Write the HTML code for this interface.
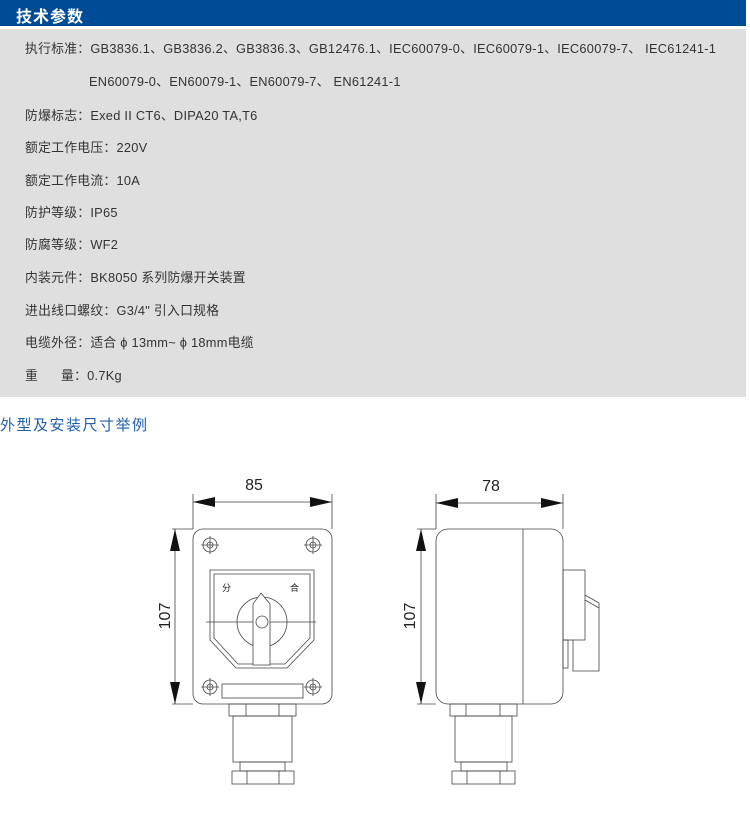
<!DOCTYPE html>
<html><head><meta charset="utf-8"><style>
html,body{margin:0;padding:0;background:#fff;}
body{width:750px;height:825px;position:relative;overflow:hidden;font-family:"Liberation Sans","Noto Sans CJK SC",sans-serif;}
.hd{position:absolute;left:0;top:0;width:746px;height:26px;background:#004b95;}
.hd span{position:absolute;left:16px;top:3px;color:#fff;font-size:16px;font-weight:bold;letter-spacing:1px;}
.gr{position:absolute;left:0;top:29px;width:746px;height:368px;background:#dfdfdf;}
.t{position:absolute;left:25px;font-size:12.8px;color:#333;white-space:nowrap;line-height:16px;letter-spacing:0.27px;}
.ttl{position:absolute;left:0;top:414px;color:#1f5ea8;font-size:15px;letter-spacing:1.5px;}
svg{position:absolute;left:0;top:0;}
</style></head><body>
<div class="hd"><span>技术参数</span></div>
<div class="gr"></div>
<div class="t" style="top:41px">执行标准：GB3836.1、GB3836.2、GB3836.3、GB12476.1、IEC60079-0、IEC60079-1、IEC60079-7、 IEC61241-1</div>
<div class="t" style="top:74px;left:89px">EN60079-0、EN60079-1、EN60079-7、 EN61241-1</div>
<div class="t" style="top:108px">防爆标志：Exed II CT6、DIPA20 TA,T6</div>
<div class="t" style="top:140px">额定工作电压：220V</div>
<div class="t" style="top:173px">额定工作电流：10A</div>
<div class="t" style="top:205px">防护等级：IP65</div>
<div class="t" style="top:237px">防腐等级：WF2</div>
<div class="t" style="top:270px">内装元件：BK8050 系列防爆开关装置</div>
<div class="t" style="top:303px">进出线口螺纹：G3/4" 引入口规格</div>
<div class="t" style="top:335px">电缆外径：适合 ϕ 13mm~ ϕ 18mm电缆</div>
<div class="t" style="top:368px">重&nbsp;&nbsp;&nbsp;&nbsp;&nbsp;&nbsp;量：0.7Kg</div>
<div class="ttl">外型及安装尺寸举例</div>
<svg width="750" height="825" viewBox="0 0 750 825">
<g stroke="#444" stroke-width="0.8" fill="none">
<line x1="193" y1="494" x2="193" y2="529"/><line x1="332" y1="494" x2="332" y2="529"/>
<line x1="193" y1="502" x2="332" y2="502"/>
<line x1="172" y1="529" x2="193" y2="529"/><line x1="172" y1="704" x2="193" y2="704"/>
<line x1="175" y1="529" x2="175" y2="704"/>
<rect x="193" y="529" width="139" height="175" rx="10"/>
<g id="h"><circle cx="210" cy="545" r="7"/><circle cx="210" cy="545" r="3"/><line x1="201" y1="545" x2="219" y2="545"/><line x1="210" y1="536" x2="210" y2="554"/></g>
<use href="#h" x="103"/><use href="#h" y="142"/><use href="#h" x="103" y="142"/>
<path d="M210,570 H314 V640 L287,668 H236 L210,640 Z"/>
<path d="M214,574 H310 V638 L285,664 H238 L214,638 Z"/>
<circle cx="262" cy="622" r="25"/>
<line x1="206" y1="622" x2="316" y2="622"/>
<path d="M253,665 V604 L261,593 L270,604 V665 Z" fill="#fff"/>
<circle cx="262" cy="622" r="6" fill="#fff"/>
<rect x="222" y="684" width="81" height="14"/>
<rect x="229" y="704" width="67" height="12"/><line x1="246" y1="704" x2="246" y2="716"/><line x1="279" y1="704" x2="279" y2="716"/>
<rect x="233" y="716" width="59" height="46"/>
<rect x="240" y="762" width="45" height="9"/>
<rect x="232" y="771" width="62" height="13"/><line x1="247" y1="771" x2="247" y2="784"/><line x1="279" y1="771" x2="279" y2="784"/>
<line x1="436" y1="494" x2="436" y2="529"/><line x1="563" y1="494" x2="563" y2="529"/>
<line x1="436" y1="503" x2="563" y2="503"/>
<line x1="417" y1="529" x2="436" y2="529"/><line x1="417" y1="704" x2="436" y2="704"/>
<line x1="421" y1="529" x2="421" y2="704"/>
<rect x="436" y="529" width="127" height="175" rx="12"/>
<line x1="523" y1="529" x2="523" y2="704"/>
<rect x="563" y="570" width="22" height="70"/>
<path d="M585,595 L599,603 V671 H573 V640"/>
<line x1="585" y1="600" x2="599" y2="608"/>
<rect x="563" y="640" width="5" height="28"/>
<rect x="450" y="704" width="67" height="12"/><line x1="466" y1="704" x2="466" y2="716"/><line x1="500" y1="704" x2="500" y2="716"/>
<rect x="455" y="716" width="57" height="46"/>
<rect x="461" y="762" width="46" height="9"/>
<rect x="452" y="771" width="63" height="13"/><line x1="467" y1="771" x2="467" y2="784"/><line x1="500" y1="771" x2="500" y2="784"/>
</g>
<g fill="#111">
<path d="M193,502 l22,-5 v10z"/><path d="M332,502 l-22,-5 v10z"/>
<path d="M175,529 l-5,22 h10z"/><path d="M175,704 l-5,-22 h10z"/>
<path d="M436,503 l22,-5 v10z"/><path d="M563,503 l-22,-5 v10z"/>
<path d="M421,529 l-5,22 h10z"/><path d="M421,704 l-5,-22 h10z"/>
</g>
<g font-family="Liberation Sans, sans-serif" font-size="16" fill="#222" text-anchor="middle">
<text x="254" y="490">85</text>
<text x="491" y="491">78</text>
<text transform="translate(170,616) rotate(-90)">107</text>
<text transform="translate(415,616) rotate(-90)">107</text>
</g>
<g font-family="Noto Sans CJK SC, sans-serif" font-size="9" fill="#111">
<text x="222" y="591">分</text><text x="290" y="591">合</text>
</g>
</svg>
</body></html>
